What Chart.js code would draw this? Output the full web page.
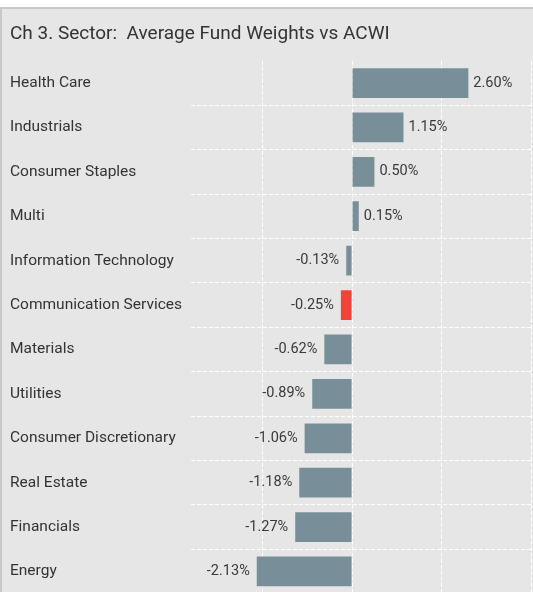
<!DOCTYPE html>
<html>
<head>
<meta charset="utf-8">
<script src="https://cdn.jsdelivr.net/npm/chart.js@4"></script>
<style>
    body { margin: 0; background: #fff; overflow: hidden; }
    #frame {
        position: absolute; top: 7px; left: 0;
        width: 531px; height: 583px;
        overflow: hidden;
        background: #e6e6e6;
        border-top: 2px solid #c8c8c8;
        border-left: 2px solid #c8c8c8;
    }
    canvas { display: block; }
</style>
</head>
<body>
<div id="frame"><canvas id="chart" width="531" height="594"></canvas></div>
<script>
var sectors = ['Health Care', 'Industrials', 'Consumer Staples', 'Multi', 'Information Technology',
    'Communication Services', 'Materials', 'Utilities', 'Consumer Discretionary', 'Real Estate',
    'Financials', 'Energy'];
var weightDiff = [2.60, 1.15, 0.50, 0.15, -0.13, -0.25, -0.62, -0.89, -1.06, -1.18, -1.27, -2.13];
var gridTicks = [-2, 0, 2, 4];

var fontName = 'Roboto, "Liberation Sans", sans-serif';

// bar value labels, right of positive bars, left of negative ones
const valueLabels = {
    id: 'valueLabels',
    afterDatasetsDraw(chart) {
        const ctx = chart.ctx;
        const meta = chart.getDatasetMeta(0);
        ctx.save();
        ctx.font = '14.5px ' + fontName;
        ctx.fillStyle = '#3a3a3a';
        ctx.textBaseline = 'middle';
        meta.data.forEach(function (bar, i) {
            const v = weightDiff[i];
            const txt = v.toFixed(2) + '%';
            if (v >= 0) {
                ctx.textAlign = 'left';
                ctx.fillText(txt, bar.x + 5, bar.y);
            } else {
                ctx.textAlign = 'right';
                ctx.fillText(txt, bar.x - 7, bar.y);
            }
        });
        ctx.restore();
    }
};

const ctx = document.getElementById('chart').getContext('2d');
const chart = new Chart(ctx, {
    type: 'bar',
    data: {
        labels: sectors,
        datasets: [{
            data: weightDiff,
            backgroundColor: weightDiff.map(function (v, i) {
                return sectors[i] === 'Communication Services' ? '#f44336' : '#788f9a';
            }),
            barPercentage: 0.67,
            categoryPercentage: 1
        }]
    },
    options: {
        indexAxis: 'y',
        responsive: false,
        animation: false,
        layout: { padding: { left: 8, right: 2, top: 0, bottom: 0 } },
        plugins: {
            legend: { display: false },
            tooltip: { enabled: false },
            title: {
                display: true,
                text: 'Ch 3. Sector:  Average Fund Weights vs ACWI',
                align: 'start',
                color: '#333',
                font: { family: fontName, size: 19, weight: 'normal' },
                padding: { top: 14, bottom: 15 }
            }
        },
        scales: {
            x: {
                min: -3.6,
                max: 4,
                afterBuildTicks: function (scale) {
                    scale.ticks = gridTicks.map(function (v) { return { value: v }; });
                },
                afterFit: function (scale) { scale.height = 0; },
                ticks: { display: false },
                grid: { color: '#ffffff', lineWidth: 1, drawTicks: false },
                border: { display: false, dash: [4, 2] }
            },
            y: {
                ticks: {
                    crossAlign: 'far',
                    color: '#333',
                    padding: 0,
                    font: { family: fontName, size: 15.5 }
                },
                afterFit: function (scale) { scale.width = 181; },
                grid: {
                    color: function (c) { return c.index === 0 ? 'rgba(0,0,0,0)' : '#ffffff'; },
                    lineWidth: 1,
                    drawTicks: false
                },
                border: { display: false, dash: [4, 2] }
            }
        }
    },
    plugins: [valueLabels]
});
</script>
</body>
</html>
